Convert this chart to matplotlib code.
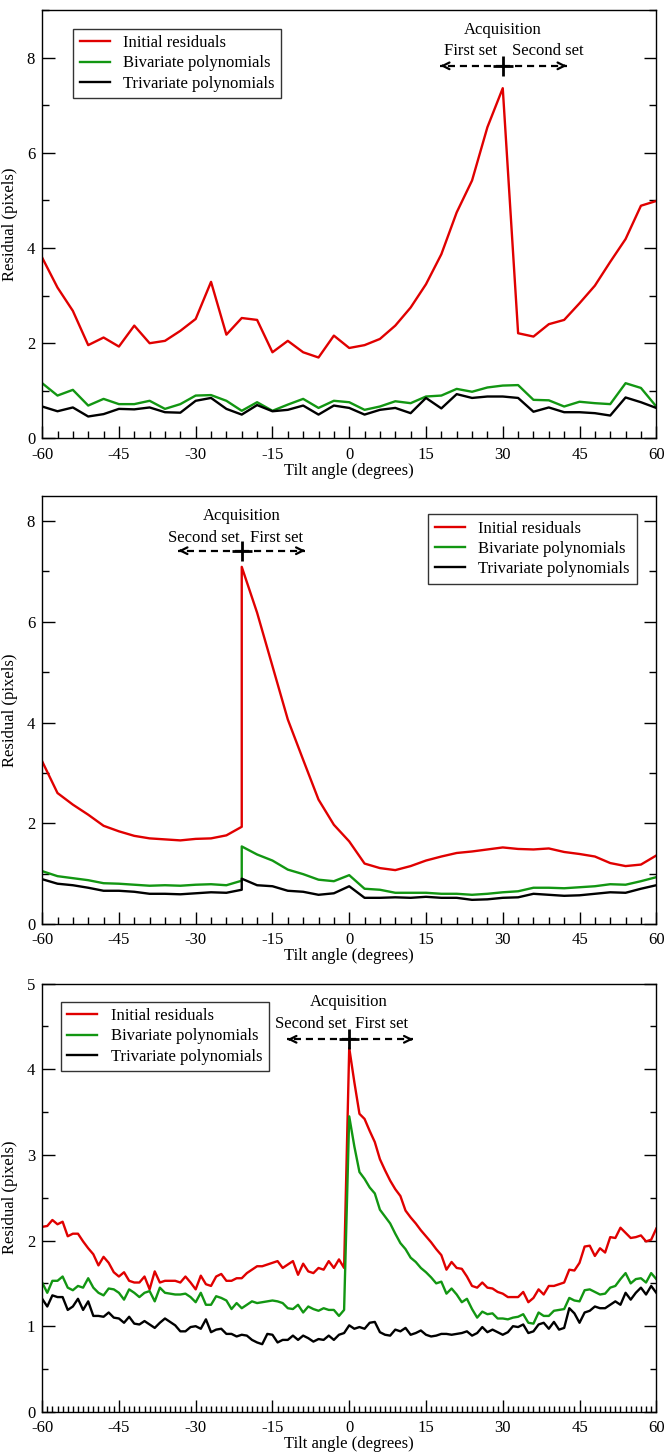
import matplotlib
matplotlib.use("Agg")
import matplotlib.pyplot as plt
import numpy as np
from matplotlib.ticker import MultipleLocator

plt.rcParams.update({
    "font.family": ["Liberation Serif", "DejaVu Serif"],
    "font.size": 11,
    "axes.linewidth": 1.0,
    "axes.unicode_minus": False,
})

RED = "#e00000"
GREEN = "#129612"
BLACK = "#000000"
labels = ["Initial residuals", "Bivariate polynomials", "Trivariate polynomials"]

# ---- panel 1 : one value every 3 degrees
tilt_a = np.arange(-60, 61, 3)
init_a = [3.80, 3.17, 2.68, 1.96, 2.12, 1.93, 2.37, 2.00, 2.05, 2.26, 2.51, 3.29, 2.18,
          2.53, 2.49, 1.81, 2.05, 1.81, 1.70, 2.16, 1.90, 1.96, 2.09, 2.37, 2.75, 3.24,
          3.87, 4.75, 5.42, 6.54, 7.36, 2.21, 2.14, 2.40, 2.49, 2.84, 3.21, 3.71, 4.19,
          4.89, 4.99]
biv_a = [1.16, 0.90, 1.02, 0.69, 0.83, 0.72, 0.72, 0.79, 0.62, 0.72, 0.90, 0.91, 0.79,
         0.58, 0.76, 0.58, 0.71, 0.83, 0.64, 0.79, 0.76, 0.60, 0.67, 0.78, 0.74, 0.88,
         0.90, 1.04, 0.98, 1.07, 1.11, 1.12, 0.81, 0.80, 0.67, 0.77, 0.74, 0.72, 1.16,
         1.06, 0.67]
triv_a = [0.67, 0.57, 0.65, 0.46, 0.51, 0.62, 0.61, 0.65, 0.55, 0.54, 0.79, 0.85, 0.62,
          0.50, 0.70, 0.57, 0.60, 0.69, 0.50, 0.69, 0.64, 0.50, 0.60, 0.64, 0.53, 0.85,
          0.63, 0.93, 0.85, 0.88, 0.88, 0.85, 0.56, 0.65, 0.55, 0.55, 0.53, 0.48, 0.86,
          0.76, 0.64]

# ---- panel 2 : every 3 degrees, two values at -21 (start of acquisition)
tilt_b = np.insert(np.arange(-60, 61, 3).astype(float), 14, -21)
init_b = [3.23, 2.60, 2.37, 2.17, 1.95, 1.84, 1.75, 1.70, 1.68, 1.66, 1.69, 1.70, 1.76,
          1.93, 7.09, 6.18, 5.12, 4.06, 3.26, 2.47, 1.97, 1.64, 1.20, 1.11, 1.07, 1.15,
          1.26, 1.34, 1.41, 1.44, 1.48, 1.52, 1.49, 1.48, 1.50, 1.43, 1.39, 1.34, 1.21,
          1.15, 1.18, 1.36]
biv_b = [1.05, 0.95, 0.91, 0.87, 0.81, 0.80, 0.78, 0.76, 0.77, 0.76, 0.78, 0.79, 0.77,
         0.86, 1.54, 1.38, 1.26, 1.08, 0.99, 0.88, 0.85, 0.97, 0.70, 0.68, 0.62, 0.62,
         0.62, 0.60, 0.60, 0.58, 0.60, 0.63, 0.65, 0.72, 0.72, 0.71, 0.73, 0.75, 0.79,
         0.78, 0.85, 0.93]
triv_b = [0.89, 0.80, 0.77, 0.72, 0.66, 0.66, 0.64, 0.60, 0.60, 0.59, 0.61, 0.63, 0.62,
          0.68, 0.90, 0.77, 0.75, 0.66, 0.64, 0.58, 0.61, 0.75, 0.52, 0.52, 0.53, 0.52,
          0.54, 0.52, 0.52, 0.48, 0.49, 0.52, 0.53, 0.60, 0.58, 0.56, 0.57, 0.60, 0.63,
          0.62, 0.70, 0.77]

# ---- panel 3 : one value every degree
tilt_c = np.arange(-60, 61, 1)
init_c = [2.16, 2.17, 2.24, 2.19, 2.22, 2.05, 2.08, 2.08, 1.99, 1.91, 1.84, 1.71, 1.81,
          1.74, 1.63, 1.58, 1.63, 1.53, 1.51, 1.51, 1.58, 1.43, 1.64, 1.51, 1.53, 1.53,
          1.53, 1.51, 1.58, 1.51, 1.43, 1.59, 1.49, 1.47, 1.58, 1.61, 1.53, 1.53, 1.56,
          1.56, 1.62, 1.66, 1.70, 1.70, 1.72, 1.74, 1.76, 1.68, 1.72, 1.76, 1.60, 1.73,
          1.64, 1.62, 1.68, 1.66, 1.76, 1.68, 1.78, 1.68,
          4.25, 3.85, 3.48, 3.42, 3.28, 3.15, 2.95, 2.82, 2.70, 2.60, 2.52, 2.35, 2.27,
          2.20, 2.12, 2.05, 1.98, 1.90, 1.83, 1.66, 1.75, 1.68, 1.67, 1.58, 1.47, 1.45,
          1.51, 1.45, 1.44, 1.40, 1.38, 1.34, 1.34, 1.34, 1.40, 1.28, 1.33, 1.43, 1.37,
          1.47, 1.47, 1.49, 1.51, 1.66, 1.65, 1.74, 1.93, 1.94, 1.82, 1.91, 1.86, 2.04,
          2.03, 2.15, 2.09, 2.03, 2.04, 2.06, 1.99, 2.01, 2.14]
biv_c = [1.51, 1.39, 1.53, 1.53, 1.58, 1.45, 1.42, 1.47, 1.45, 1.56, 1.45, 1.39, 1.36,
         1.44, 1.43, 1.39, 1.31, 1.43, 1.39, 1.34, 1.39, 1.41, 1.29, 1.45, 1.39, 1.38,
         1.37, 1.37, 1.38, 1.34, 1.28, 1.39, 1.25, 1.25, 1.35, 1.33, 1.30, 1.20, 1.27,
         1.21, 1.25, 1.29, 1.27, 1.28, 1.29, 1.30, 1.29, 1.27, 1.21, 1.20, 1.25, 1.16,
         1.23, 1.20, 1.18, 1.21, 1.19, 1.19, 1.12, 1.19,
         3.45, 3.10, 2.80, 2.72, 2.62, 2.55, 2.36, 2.28, 2.20, 2.08, 1.97, 1.90, 1.80,
         1.75, 1.68, 1.63, 1.57, 1.50, 1.52, 1.38, 1.44, 1.37, 1.28, 1.32, 1.20, 1.10,
         1.17, 1.14, 1.15, 1.09, 1.09, 1.08, 1.10, 1.11, 1.14, 1.04, 1.03, 1.16, 1.12,
         1.12, 1.18, 1.19, 1.20, 1.33, 1.30, 1.29, 1.42, 1.43, 1.40, 1.37, 1.38, 1.45,
         1.47, 1.55, 1.62, 1.50, 1.55, 1.56, 1.51, 1.62, 1.55]
triv_c = [1.32, 1.23, 1.36, 1.34, 1.34, 1.19, 1.23, 1.32, 1.19, 1.29, 1.12, 1.12, 1.11,
          1.16, 1.10, 1.09, 1.04, 1.11, 1.03, 1.02, 1.06, 1.02, 0.98, 1.04, 1.09, 1.05,
          1.01, 0.94, 0.94, 0.99, 1.00, 0.97, 1.08, 0.93, 0.96, 0.97, 0.91, 0.91, 0.88,
          0.90, 0.89, 0.84, 0.81, 0.79, 0.91, 0.90, 0.81, 0.84, 0.84, 0.89, 0.84, 0.89,
          0.86, 0.82, 0.85, 0.84, 0.89, 0.84, 0.90, 0.92,
          1.01, 0.97, 0.99, 0.97, 1.04, 1.05, 0.93, 0.90, 0.89, 0.96, 0.94, 0.98, 0.90,
          0.92, 0.95, 0.90, 0.88, 0.89, 0.91, 0.91, 0.90, 0.91, 0.92, 0.94, 0.89, 0.92,
          0.99, 0.93, 0.96, 0.93, 0.90, 0.93, 1.00, 0.99, 1.02, 0.92, 0.94, 1.02, 1.04,
          0.97, 1.05, 0.96, 0.98, 1.21, 1.15, 1.04, 1.16, 1.18, 1.23, 1.21, 1.21, 1.25,
          1.29, 1.25, 1.39, 1.31, 1.39, 1.45, 1.37, 1.47, 1.39]

panels = [
    dict(x=tilt_a, ys=[init_a, biv_a, triv_a], ymax=9, minor_x=3, minor_y=1,
         major_y=2, acq=30, acq_y=(8.58, 8.14, 7.83), arrow=(17.8, 42.5),
         sets=(("First set", 23.7), ("Second set", 38.8)),
         leg=dict(loc="upper left", bbox_to_anchor=(0.05, 0.957))),
    dict(x=tilt_b, ys=[init_b, biv_b, triv_b], ymax=8.5, minor_x=3, minor_y=1,
         major_y=2, acq=-21, acq_y=(8.1, 7.67, 7.41), arrow=(-33.4, -8.6),
         sets=(("Second set", -28.4), ("First set", -14.2)),
         leg=dict(loc="upper right", bbox_to_anchor=(0.968, 0.957))),
    dict(x=tilt_c, ys=[init_c, biv_c, triv_c], ymax=5, minor_x=1, minor_y=0.5,
         major_y=1, acq=0, acq_y=(4.78, 4.53, 4.35), arrow=(-12.1, 12.5),
         sets=(("Second set", -7.6), ("First set", 6.4)),
         leg=dict(loc="upper left", bbox_to_anchor=(0.03, 0.958))),
]
bottoms = [0.6985, 0.3645, 0.0290]

fig = plt.figure(figsize=(6.69, 14.54), dpi=100)
for p, b in zip(panels, bottoms):
    ax = fig.add_axes([0.063, b, 0.918, 0.2945])
    for y, c, lab in zip(p["ys"], [RED, GREEN, BLACK], labels):
        ax.plot(p["x"], y, color=c, lw=1.7, label=lab)
    ax.set_xlim(-60, 60)
    ax.set_ylim(0, p["ymax"])
    ax.xaxis.set_major_locator(MultipleLocator(15))
    ax.xaxis.set_minor_locator(MultipleLocator(p["minor_x"]))
    ax.yaxis.set_major_locator(MultipleLocator(p["major_y"]))
    ax.yaxis.set_minor_locator(MultipleLocator(p["minor_y"]))
    ax.tick_params(which="both", direction="in", left=True, right=True,
                   top=False, bottom=True, labelsize=12)
    ax.tick_params(which="major", length=9, width=1)
    ax.tick_params(which="minor", length=5 if p["minor_x"] == 3 else 4, width=1)
    ax.tick_params(axis="x", pad=6)
    ax.tick_params(axis="y", pad=5)
    ax.set_xlabel("Tilt angle (degrees)", fontsize=12, labelpad=0)
    ax.set_ylabel("Residual (pixels)", fontsize=12, labelpad=6)

    leg = ax.legend(frameon=True, fancybox=False, edgecolor="black", fontsize=12,
                    borderaxespad=0, handlelength=1.8, handletextpad=0.8,
                    labelspacing=0.25, borderpad=0.4, **p["leg"])
    leg.get_frame().set_linewidth(1.0)

    # acquisition annotation
    a = p["acq"]
    ty, sy, ay = p["acq_y"]
    ax.text(a, ty, "Acquisition", ha="center", va="center", fontsize=12)
    for s, sx in p["sets"]:
        ax.text(sx, sy, s, ha="center", va="center", fontsize=12)
    for end in p["arrow"]:
        ax.plot([a, end], [ay, ay], color="k", ls=(0, (3.2, 2.2)), lw=1.6)
        ax.annotate("", xy=(end, ay), xytext=(end - np.sign(end - a) * 0.5, ay),
                    arrowprops=dict(arrowstyle="->", lw=1.6, color="k",
                                    mutation_scale=12, shrinkA=0, shrinkB=0))
    ax.plot([a], [ay], marker="+", ms=14, mew=2, color="k")

fig.savefig("out.png", dpi=100)
